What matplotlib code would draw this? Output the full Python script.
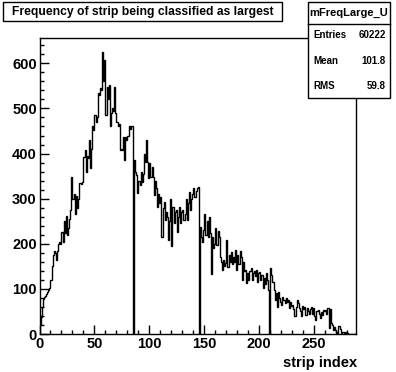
import numpy as np
import matplotlib
matplotlib.use("Agg")
import matplotlib.pyplot as plt
from matplotlib.patches import Rectangle
from matplotlib.lines import Line2D
from matplotlib.ticker import MultipleLocator

plt.rcParams['font.family'] = ['Liberation Sans', 'DejaVu Sans']

title = "Frequency of strip being classified as largest"
hist_name = "mFreqLarge_U"
stats_labels = ["Entries", "Mean", "RMS"]
stats_values = ["60222", "101.8", "59.8"]
x_label = "strip index"
x_min, x_max = 0, 288

counts = [
    20, 38, 60, 78, 82, 85, 88, 92, 98, 103,
    120, 150, 175, 183, 180, 165, 185, 200, 205, 200,
    226, 205, 250, 225, 262, 220, 235, 255, 275, 349,
    300, 311, 265, 305, 280, 300, 335, 335, 333, 337,
    392, 408, 360, 395, 390, 430, 367, 410, 460, 452,
    486, 470, 480, 535, 530, 545, 540, 626, 560, 608,
    486, 548, 520, 552, 460, 490, 500, 495, 548, 490,
    470, 462, 465, 408, 410, 408, 437, 386, 437, 430,
    440, 460, 455, 462, 460, 0, 386, 360, 352, 312,
    340, 330, 360, 337, 355, 400, 382, 430, 382, 345,
    378, 349, 370, 349, 308, 340, 323, 282, 310, 290,
    304, 216, 280, 293, 253, 270, 260, 208, 250, 300,
    194, 282, 245, 270, 274, 227, 260, 282, 245, 270,
    274, 253, 265, 300, 253, 290, 315, 274, 300, 310,
    323, 304, 318, 323, 326, 0, 238, 215, 205, 230,
    267, 220, 250, 216, 260, 225, 134, 216, 190, 200,
    234, 197, 228, 215, 171, 160, 142, 165, 150, 158,
    208, 149, 175, 160, 182, 156, 170, 160, 186, 142,
    175, 155, 185, 171, 120, 160, 140, 142, 112, 135,
    120, 140, 146, 120, 135, 140, 128, 142, 116, 135,
    138, 120, 130, 101, 125, 110, 135, 120, 98, 0,
    146, 130, 116, 98, 75, 90, 60, 94, 80, 70,
    64, 83, 75, 68, 80, 72, 75, 57, 70, 62,
    64, 55, 39, 60, 75, 68, 58, 50, 39, 62,
    55, 60, 42, 58, 50, 45, 55, 60, 45, 57,
    40, 31, 50, 53, 45, 35, 48, 42, 53, 50,
    53, 45, 57, 13, 55, 24, 20, 9, 15, 8,
    5, 2, 18, 10, 3, 5, 4, 2, 5, 3,
    2, 1, 1, 0, 1, 0, 0, 0,
]

W, H = 396, 372
fig = plt.figure(figsize=(W / 100, H / 100), dpi=100)
fig.patch.set_facecolor('white')

def fx(x):
    return x / W

def fy(y):
    return 1 - y / H

ax_l, ax_r, ax_t, ax_b = 39.5, 356, 37.5, 334
ax = fig.add_axes([fx(ax_l), fy(ax_b), fx(ax_r) - fx(ax_l), fy(ax_t) - fy(ax_b)])

values = np.array(counts, dtype=float)
edges = np.linspace(x_min, x_max, len(values) + 1)
ax.stairs(values, edges, baseline=None, color='black', linewidth=1.0)

ax.set_xlim(x_min, x_max)
ax.set_ylim(0, values.max() * 1.05)

ax.xaxis.set_major_locator(MultipleLocator(50))
ax.xaxis.set_minor_locator(MultipleLocator(10))
ax.yaxis.set_major_locator(MultipleLocator(100))
ax.yaxis.set_minor_locator(MultipleLocator(20))
ax.tick_params(which='both', direction='in', top=False, right=False, width=1, colors='black')
ax.tick_params(which='major', length=6.5, labelsize=10.5, pad=2)
ax.tick_params(which='minor', length=3.2)
for lbl in ax.get_xticklabels() + ax.get_yticklabels():
    lbl.set_fontweight('bold')
for s in ax.spines.values():
    s.set_linewidth(1)
    s.set_color('black')

fig.text(fx(357), fy(363), x_label, ha='right', va='center', fontsize=10.5, fontweight='bold')

# title box
fig.patches.append(Rectangle((fx(3), fy(21)), fx(282) - fx(3), fy(2) - fy(21),
                             transform=fig.transFigure, facecolor='white',
                             edgecolor='black', linewidth=1, zorder=5))
fig.text(fx(142.5), fy(11.5), title, ha='center', va='center', fontsize=8.7,
         fontweight='bold', zorder=6)

# stats box
sb_l, sb_r, sb_t, sb_b = 308, 390, 2, 98
fig.patches.append(Rectangle((fx(sb_l), fy(sb_b)), fx(sb_r) - fx(sb_l), fy(sb_t) - fy(sb_b),
                             transform=fig.transFigure, facecolor='white',
                             edgecolor='black', linewidth=1, zorder=5))
fig.lines.append(Line2D([fx(sb_l), fx(sb_r)], [fy(24), fy(24)], transform=fig.transFigure,
                        color='black', linewidth=1, zorder=6))
fig.text(fx((sb_l + sb_r) / 2), fy(13), hist_name, ha='center', va='center',
         fontsize=8, fontweight='bold', zorder=6)
rows_y = [35, 61, 86]
for lab, val, yy in zip(stats_labels, stats_values, rows_y):
    fig.text(fx(313), fy(yy), lab, ha='left', va='center', fontsize=7, fontweight='bold', zorder=6)
    fig.text(fx(386), fy(yy), val, ha='right', va='center', fontsize=7, fontweight='bold', zorder=6)

fig.savefig("out.png", dpi=100, facecolor='white')
